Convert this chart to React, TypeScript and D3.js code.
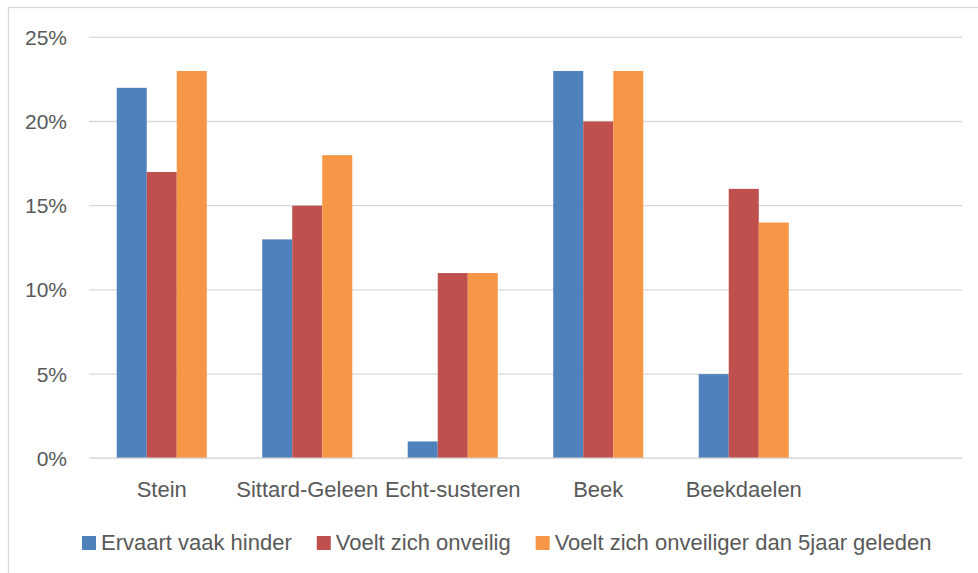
import React, { useEffect, useRef } from "react";
import * as d3 from "d3";

const categories = ["Stein", "Sittard-Geleen", "Echt-susteren", "Beek", "Beekdaelen", ""];
const seriesNames = ["Ervaart vaak hinder", "Voelt zich onveilig", "Voelt zich onveiliger dan 5jaar geleden"];
const hinder = [0.22, 0.13, 0.01, 0.23, 0.05, null];
const onveilig = [0.17, 0.15, 0.11, 0.20, 0.16, null];
const onveiliger5 = [0.23, 0.18, 0.11, 0.23, 0.14, null];
const seriesColors = ["#4F81BD", "#C0504D", "#F79646"];
const yTicks = [0, 0.05, 0.1, 0.15, 0.2, 0.25];

const W = 978;
const H = 573;
const FONT = "'Liberation Sans', Arial, sans-serif";

export default function App() {
  const ref = useRef<SVGSVGElement | null>(null);

  useEffect(() => {
    const svg = d3.select(ref.current);
    svg.selectAll("*").remove();

    const plot = { left: 89, right: 962, top: 37.3, bottom: 458.3 };
    const values = [hinder, onveilig, onveiliger5];

    // chart border
    svg.append("rect")
      .attr("x", 8.5).attr("y", 7.5)
      .attr("width", W + 10).attr("height", H + 10)
      .attr("fill", "#fff").attr("stroke", "#D9D9D9").attr("stroke-width", 1.3);

    const y = d3.scaleLinear().domain([0, 0.25]).range([plot.bottom, plot.top]);
    const x0 = d3.scaleBand<string>().domain(categories.map((c, i) => i + "")).range([plot.left, plot.right]).padding(0);
    const step = x0.bandwidth();
    const groupW = step * 0.619;
    const x1 = d3.scaleBand<string>().domain(seriesNames).range([(step - groupW) / 2, (step + groupW) / 2]).padding(0);

    // gridlines
    svg.append("g").selectAll("line").data(yTicks).join("line")
      .attr("x1", plot.left).attr("x2", plot.right)
      .attr("y1", (d) => y(d)).attr("y2", (d) => y(d))
      .attr("stroke", "#D9D9D9").attr("stroke-width", 1.3);

    // y tick labels
    const fmt = d3.format(".0%");
    svg.append("g").selectAll("text").data(yTicks).join("text")
      .attr("x", 67).attr("y", (d) => y(d) + 7.5)
      .attr("text-anchor", "end")
      .attr("font-family", FONT).attr("font-size", 21).attr("fill", "#595959")
      .text((d) => fmt(d));

    // bars
    values.forEach((arr, si) => {
      svg.append("g").selectAll("rect").data(arr.map((v, i) => ({ v, i })).filter((d) => d.v != null)).join("rect")
        .attr("x", (d) => (x0(d.i + "") as number) + (x1(seriesNames[si]) as number))
        .attr("width", x1.bandwidth())
        .attr("y", (d) => y(d.v as number))
        .attr("height", (d) => plot.bottom - y(d.v as number))
        .attr("fill", seriesColors[si]);
    });

    // x axis line
    svg.append("line")
      .attr("x1", plot.left).attr("x2", plot.right)
      .attr("y1", plot.bottom).attr("y2", plot.bottom)
      .attr("stroke", "#D9D9D9").attr("stroke-width", 1.5);

    // category labels
    svg.append("g").selectAll("text").data(categories).join("text")
      .attr("x", (d, i) => (x0(i + "") as number) + step / 2)
      .attr("y", 497)
      .attr("text-anchor", "middle")
      .attr("font-family", FONT).attr("font-size", 22).attr("fill", "#595959")
      .text((d) => d);

    // legend
    const lg = svg.append("g");
    let cx = 82;
    seriesNames.forEach((name, i) => {
      lg.append("rect").attr("x", cx).attr("y", 536).attr("width", 14).attr("height", 14).attr("fill", seriesColors[i]);
      const t = lg.append("text")
        .attr("x", cx + 19).attr("y", 550)
        .attr("font-family", FONT).attr("font-size", 22).attr("fill", "#595959")
        .text(name);
      const w = (t.node() as SVGTextElement).getComputedTextLength();
      cx = cx + 19 + w + 25;
    });
  }, []);

  return (
    <svg
      ref={ref}
      width={W}
      height={H}
      style={{ position: "absolute", left: 0, top: 0, display: "block", background: "#fff" }}
    />
  );
}
